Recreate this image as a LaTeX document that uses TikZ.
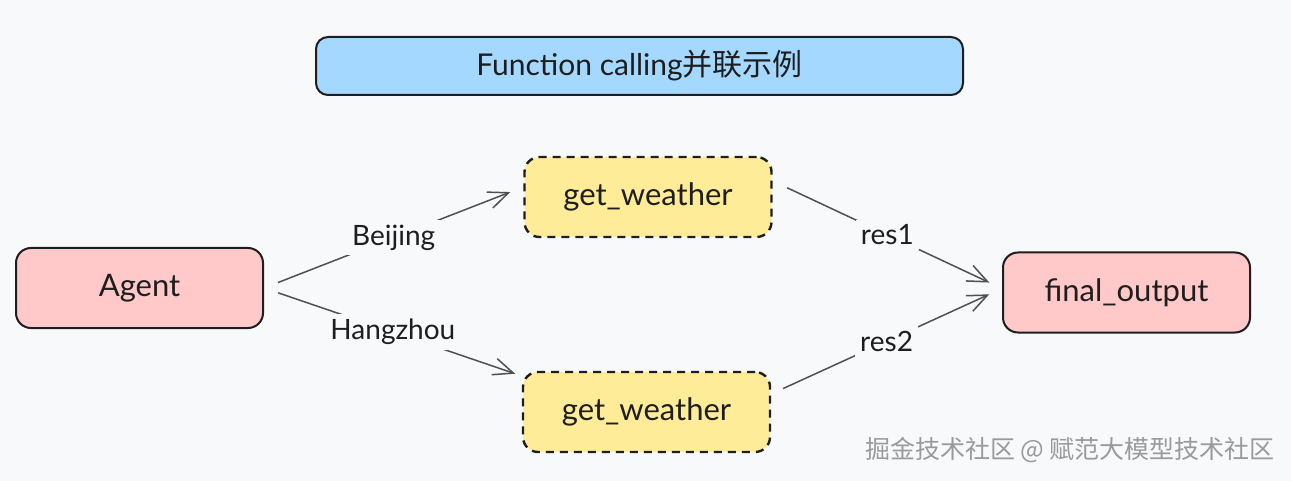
\documentclass[tikz,border=0pt]{standalone}
\usepackage{fontspec}
\setmainfont{Lato}
\newfontfamily\cjk{Noto Sans CJK SC}
\usetikzlibrary{arrows.meta}
\definecolor{bg}{HTML}{F8F9FB}
\definecolor{ink}{HTML}{1E1E1E}
\definecolor{arrowgray}{HTML}{505050}
\definecolor{titleblue}{HTML}{A5D8FF}
\definecolor{agentred}{HTML}{FFC9C9}
\definecolor{toolyellow}{HTML}{FFEC99}
\definecolor{markgray}{HTML}{9A9A9A}
\begin{document}
\begin{tikzpicture}[x=1pt,y=-1pt,
    box/.style={draw=ink,line width=2pt,rounded corners=15pt,minimum width=247pt,minimum height=80pt,
      font=\fontsize{31}{36}\selectfont,text=ink},
    tool/.style={box,fill=toolyellow,line width=2.4pt,dash pattern=on 8pt off 6pt},
    arr/.style={-{Straight Barb[length=20pt,width=17pt]},draw=arrowgray,line width=1.5pt},
    lbl/.style={fill=bg,font=\fontsize{28}{32}\selectfont,text=ink,inner sep=5pt}]
  \fill[bg] (0,0) rectangle (1291,481); %背景
  \useasboundingbox (0,0) rectangle (1291,481);

  \node[box,fill=titleblue,minimum width=647pt,minimum height=58pt,rounded corners=12pt,
    font=\fontsize{30}{34}\selectfont] (title) at (639.5,66) {Function calling{\cjk 并联示例}};

  \node[box,fill=agentred] (agent) at (139.5,288) {Agent};
  \node[tool] (wtop) at (648,197) {get\_weather};
  \node[tool] (wbot) at (646.5,412) {get\_weather};
  \node[box,fill=agentred] (final) at (1126.5,292.5) {final\_output};

  \draw[arr,shorten <=15pt,shorten >=14pt] (agent.east)--([yshift=10pt]wtop.west)node[lbl,midway]{Beijing};
  \draw[arr,shorten <=15pt,shorten >=7pt] (agent.east)--([yshift=36pt]wbot.west)node[lbl,midway]{Hangzhou};
  \draw[arr,shorten <=16pt,shorten >=14pt] ([yshift=16pt]wtop.east)--([yshift=4pt]final.west)node[lbl,midway]{res1};
  \draw[arr,shorten <=13pt,shorten >=14pt] ([yshift=18pt]wbot.east)--([yshift=4pt]final.west)node[lbl,midway]{res2};

  \node[font=\cjk\fontsize{25}{29}\selectfont,text=markgray] (mark) at (1070,450) {掘金技术社区 @ 赋范大模型技术社区}; %水印
\end{tikzpicture}
\end{document}
